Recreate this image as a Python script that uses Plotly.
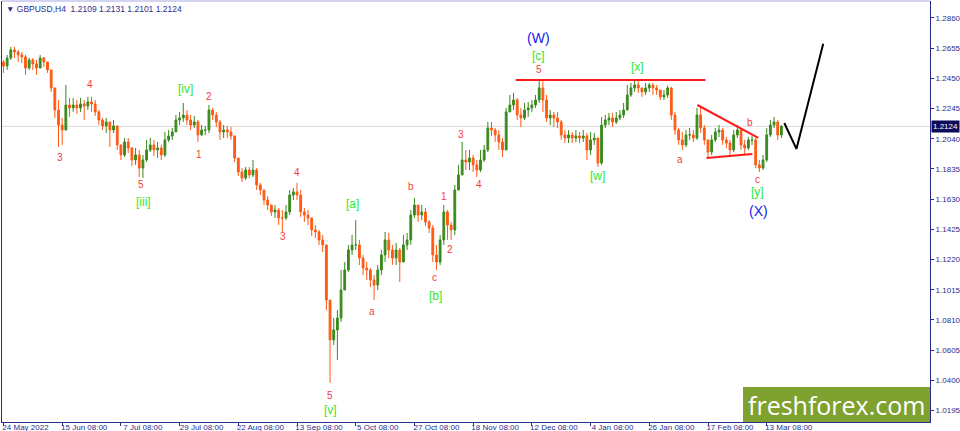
import plotly.graph_objects as go

# GBPUSD, one bar per trading day (24 May 2022 - 15 Mar 2023)
first_open = 1.2560
closes = [
    1.2534, 1.2588, 1.2643, 1.2629, 1.2609, 1.2595, 1.2520, 1.2575, 1.2548, 1.2520,
    1.2588, 1.2561, 1.2507, 1.2385, 1.2235, 1.2133, 1.2099, 1.2269, 1.2249, 1.2269,
    1.2249, 1.2276, 1.2262, 1.2290, 1.2276, 1.2222, 1.2167, 1.2127, 1.2154, 1.2099,
    1.2127, 1.1998, 1.1930, 1.2018, 1.1977, 1.1896, 1.1930, 1.1841, 1.1896, 1.1964,
    1.1998, 1.1964, 1.1977, 1.1930, 1.2032, 1.2059, 1.2086, 1.2167, 1.2181, 1.2201,
    1.2167, 1.2133, 1.2154, 1.2066, 1.2099, 1.2099, 1.2235, 1.2201, 1.2154, 1.2086,
    1.2099, 1.2086, 1.2059, 1.1909, 1.1814, 1.1773, 1.1828, 1.1794, 1.1828, 1.1726,
    1.1692, 1.1624, 1.1590, 1.1543, 1.1556, 1.1502, 1.1502, 1.1543, 1.1658, 1.1679,
    1.1658, 1.1543, 1.1522, 1.1502, 1.1421, 1.1407, 1.1353, 1.1319, 1.0945, 1.0674,
    1.0742, 1.0823, 1.1013, 1.1149, 1.1285, 1.1319, 1.1319, 1.1230, 1.1162, 1.1149,
    1.1081, 1.1047, 1.1149, 1.1251, 1.1353, 1.1285, 1.1230, 1.1285, 1.1203, 1.1319,
    1.1353, 1.1522, 1.1590, 1.1522, 1.1543, 1.1475, 1.1434, 1.1251, 1.1203, 1.1353,
    1.1543, 1.1454, 1.1421, 1.1692, 1.1794, 1.1896, 1.1882, 1.1909, 1.1862, 1.1828,
    1.1896, 1.1964, 1.2113, 1.2099, 1.2066, 1.2018, 1.1964, 1.2222, 1.2269, 1.2303,
    1.2201, 1.2181, 1.2235, 1.2249, 1.2269, 1.2303, 1.2385, 1.2303, 1.2181, 1.2201,
    1.2181, 1.2154, 1.2066, 1.2045, 1.2066, 1.2045, 1.2059, 1.2045, 1.2059, 1.1964,
    1.2032, 1.2045, 1.1875, 1.2133, 1.2167, 1.2181, 1.2154, 1.2181, 1.2201, 1.2235,
    1.2337, 1.2385, 1.2405, 1.2385, 1.2358, 1.2385, 1.2405, 1.2385, 1.2371, 1.2324,
    1.2337, 1.2385, 1.2201, 1.2099, 1.2032, 1.1998, 1.2066, 1.2066, 1.2045, 1.2201,
    1.2113, 1.2032, 1.1950, 1.2032, 1.2086, 1.2099, 1.2032, 1.2011, 1.1964, 1.2066,
    1.2099, 1.1998, 1.1977, 1.2032, 1.2032, 1.1862, 1.1841, 1.1896, 1.2066, 1.2133,
    1.2154, 1.2066, 1.2124,
]
highs = [
    1.2575, 1.2609, 1.2663, 1.2663, 1.2643, 1.2629, 1.2609, 1.2588, 1.2588, 1.2575,
    1.2609, 1.2595, 1.2561, 1.2507, 1.2385, 1.2303, 1.2181, 1.2405, 1.2317, 1.2317,
    1.2303, 1.2317, 1.2303, 1.2324, 1.2324, 1.2303, 1.2235, 1.2181, 1.2181, 1.2154,
    1.2167, 1.2113, 1.1998, 1.2045, 1.2045, 1.1984, 1.1977, 1.1964, 1.1930, 1.2032,
    1.2045, 1.2032, 1.2018, 1.1998, 1.2086, 1.2099, 1.2113, 1.2201, 1.2222, 1.2283,
    1.2235, 1.2201, 1.2195, 1.2167, 1.2133, 1.2127, 1.2269, 1.2249, 1.2222, 1.2167,
    1.2133, 1.2127, 1.2120, 1.2052, 1.1896, 1.1841, 1.1848, 1.1848, 1.1896, 1.1841,
    1.1740, 1.1692, 1.1651, 1.1590, 1.1590, 1.1570, 1.1556, 1.1590, 1.1692, 1.1705,
    1.1740, 1.1692, 1.1570, 1.1556, 1.1488, 1.1454, 1.1421, 1.1387, 1.1319, 1.0945,
    1.0823, 1.0877, 1.1149, 1.1203, 1.1319, 1.1387, 1.1488, 1.1353, 1.1251, 1.1203,
    1.1162, 1.1115, 1.1183, 1.1285, 1.1407, 1.1400, 1.1319, 1.1332, 1.1298, 1.1387,
    1.1400, 1.1556, 1.1638, 1.1590, 1.1590, 1.1570, 1.1488, 1.1454, 1.1319, 1.1387,
    1.1590, 1.1556, 1.1475, 1.1726, 1.1862, 1.2018, 1.1964, 1.1964, 1.1930, 1.1896,
    1.1964, 1.1998, 1.2154, 1.2154, 1.2113, 1.2099, 1.2045, 1.2249, 1.2337, 1.2351,
    1.2317, 1.2249, 1.2283, 1.2290, 1.2303, 1.2337, 1.2439, 1.2439, 1.2337, 1.2235,
    1.2222, 1.2222, 1.2167, 1.2099, 1.2099, 1.2086, 1.2099, 1.2086, 1.2099, 1.2079,
    1.2086, 1.2079, 1.2045, 1.2188, 1.2201, 1.2215, 1.2215, 1.2222, 1.2235, 1.2283,
    1.2405, 1.2419, 1.2439, 1.2439, 1.2385, 1.2419, 1.2419, 1.2419, 1.2405, 1.2371,
    1.2371, 1.2399, 1.2392, 1.2222, 1.2113, 1.2086, 1.2099, 1.2113, 1.2099, 1.2249,
    1.2256, 1.2133, 1.2032, 1.2066, 1.2113, 1.2133, 1.2113, 1.2052, 1.2032, 1.2099,
    1.2133, 1.2113, 1.2032, 1.2052, 1.2059, 1.2045, 1.1896, 1.1930, 1.2113, 1.2167,
    1.2188, 1.2167, 1.2133,
]
lows = [
    1.2487, 1.2507, 1.2575, 1.2588, 1.2561, 1.2554, 1.2473, 1.2507, 1.2507, 1.2473,
    1.2520, 1.2527, 1.2487, 1.2358, 1.2181, 1.1984, 1.1998, 1.2113, 1.2188, 1.2222,
    1.2208, 1.2222, 1.2167, 1.2235, 1.2222, 1.2195, 1.2133, 1.2099, 1.2079, 1.1984,
    1.2079, 1.1964, 1.1896, 1.1916, 1.1943, 1.1855, 1.1862, 1.1780, 1.1773, 1.1882,
    1.1950, 1.1923, 1.1909, 1.1896, 1.1916, 1.2018, 1.2032, 1.2099, 1.2133, 1.2154,
    1.2133, 1.2099, 1.2113, 1.2018, 1.2059, 1.2066, 1.2079, 1.2167, 1.2120, 1.2032,
    1.2045, 1.2045, 1.2032, 1.1882, 1.1787, 1.1746, 1.1760, 1.1773, 1.1780, 1.1692,
    1.1658, 1.1590, 1.1556, 1.1516, 1.1502, 1.1454, 1.1407, 1.1488, 1.1522, 1.1624,
    1.1624, 1.1509, 1.1475, 1.1454, 1.1380, 1.1366, 1.1319, 1.1271, 1.0877, 1.0382,
    1.0640, 1.0538, 1.0796, 1.1047, 1.1135, 1.1251, 1.1285, 1.1183, 1.1115, 1.1081,
    1.1033, 1.0945, 1.1013, 1.1115, 1.1203, 1.1230, 1.1183, 1.1183, 1.1067, 1.1217,
    1.1285, 1.1319, 1.1502, 1.1475, 1.1488, 1.1448, 1.1400, 1.1203, 1.1149, 1.1183,
    1.1319, 1.1353, 1.1353, 1.1387, 1.1692, 1.1794, 1.1828, 1.1828, 1.1814, 1.1780,
    1.1814, 1.1882, 1.1950, 1.2059, 1.2018, 1.1964, 1.1916, 1.1964, 1.2222, 1.2235,
    1.2167, 1.2120, 1.2167, 1.2188, 1.2222, 1.2249, 1.2283, 1.2222, 1.2154, 1.2133,
    1.2120, 1.2113, 1.2032, 1.2011, 1.2011, 1.2011, 1.2018, 1.2011, 1.2018, 1.1896,
    1.1930, 1.1998, 1.1848, 1.1862, 1.2113, 1.2133, 1.2120, 1.2140, 1.2167, 1.2181,
    1.2235, 1.2324, 1.2358, 1.2351, 1.2324, 1.2337, 1.2358, 1.2337, 1.2337, 1.2303,
    1.2303, 1.2317, 1.2167, 1.2066, 1.1998, 1.1964, 1.1984, 1.2032, 1.2018, 1.2032,
    1.2079, 1.1998, 1.1916, 1.1930, 1.2018, 1.2052, 1.1998, 1.1977, 1.1930, 1.1950,
    1.2045, 1.1964, 1.1930, 1.1964, 1.1998, 1.1841, 1.1814, 1.1828, 1.1882, 1.2052,
    1.2113, 1.2032, 1.2045,
]
opens = [first_open] + closes[:-1]
days = list(range(len(closes)))

tick_days = [0, 16, 32, 48, 64, 80, 96, 112, 128, 144, 160, 176, 192, 208]
tick_text = ["24 May 2022", "15 Jun 08:00", "7 Jul 08:00", "29 Jul 08:00",
             "22 Aug 08:00", "13 Sep 08:00", "5 Oct 08:00", "27 Oct 08:00",
             "18 Nov 08:00", "12 Dec 08:00", "4 Jan 08:00", "26 Jan 08:00",
             "17 Feb 08:00", "13 Mar 08:00"]
price_ticks = [1.0195, 1.0400, 1.0605, 1.0810, 1.1015, 1.1220, 1.1425,
               1.1630, 1.1835, 1.2040, 1.2245, 1.2450, 1.2655, 1.2860]
last_price = 1.2124

# wave count labels: text, day, price, level
wave_text = ["3", "4", "5", "[iii]", "[iv]", "1", "2", "3", "4", "5", "[v]",
             "[a]", "a", "b", "c", "[b]", "1", "2", "3", "4", "5", "[c]", "(W)",
             "[w]", "[x]", "a", "b", "c", "[y]", "(X)"]
wave_day = [15.5, 23.7, 37.6, 38.1, 49.5, 53.3, 56.0, 76.2, 80.0, 89.0, 89.0,
            95.2, 100.4, 111.0, 117.6, 117.8, 120.0, 121.6, 124.6, 129.5, 145.9, 145.9, 145.9,
            161.9, 172.8, 184.5, 203.5, 205.4, 205.4, 205.7]
wave_price = [1.1916, 1.2405, 1.1726, 1.1611, 1.2378, 1.1930, 1.2324, 1.1373, 1.1808, 1.0300, 1.0198,
              1.1597, 1.0870, 1.1719, 1.1095, 1.0972, 1.1645, 1.1285, 1.2072, 1.1726, 1.2507, 1.2602, 1.2724,
              1.1787, 1.2527, 1.1896, 1.2147, 1.1760, 1.1679, 1.1549]
wave_level = ["minor", "minor", "minor", "minute", "minute", "minor", "minor", "minor", "minor", "minor", "minute",
              "minute", "minor", "minor", "minor", "minute", "minor", "minor", "minor", "minor", "minor", "minute", "minor_deg",
              "minute", "minute", "minor", "minor", "minor", "minute", "minor_deg"]

# drawn lines
resistance_day = [139.6, 191.3]
resistance_price = [1.2439, 1.2439]
tri_top_day = [189.1, 205.7]
tri_top_price = [1.2269, 1.2045]
tri_bottom_day = [191.6, 204.1]
tri_bottom_price = [1.1909, 1.1936]
forecast_day = [212.8, 216.1, 223.4]
forecast_price = [1.2147, 1.1971, 1.2684]

navy = "#2c2c8c"
label_style = {
    "minor": dict(color="#f23c3c", size=10),
    "minute": dict(color="#2ee82e", size=12),
    "minor_deg": dict(color="#1a1aee", size=14),
}

fig = go.Figure()
fig.add_trace(go.Candlestick(
    x=days, open=opens, high=highs, low=lows, close=closes,
    increasing=dict(line=dict(color="#3a8a1e", width=1), fillcolor="#3a8a1e"),
    decreasing=dict(line=dict(color="#ff5a14", width=1), fillcolor="#ff5a14"),
    whiskerwidth=0, showlegend=False, hoverinfo="skip",
))
fig.add_trace(go.Scatter(x=resistance_day, y=resistance_price, mode="lines",
                         line=dict(color="#ff1a1a", width=2), showlegend=False))
fig.add_trace(go.Scatter(x=tri_top_day, y=tri_top_price, mode="lines",
                         line=dict(color="#ff1a1a", width=2), showlegend=False))
fig.add_trace(go.Scatter(x=tri_bottom_day, y=tri_bottom_price, mode="lines",
                         line=dict(color="#ff1a1a", width=2), showlegend=False))
fig.add_trace(go.Scatter(x=forecast_day, y=forecast_price, mode="lines",
                         line=dict(color="black", width=2), showlegend=False))

for t, d, p, lev in zip(wave_text, wave_day, wave_price, wave_level):
    st = label_style[lev]
    fig.add_annotation(x=d, y=p, text=t, showarrow=False,
                       font=dict(family="Liberation Sans", size=st["size"], color=st["color"]))

# bid line and price tag
fig.add_hline(y=last_price, line=dict(color="#d9d9d9", width=1), layer="below")
fig.add_annotation(xref="paper", x=1, xanchor="left", xshift=1, y=last_price, yanchor="middle",
                   text="1.2124", showarrow=False, bgcolor="#0c0c5a", borderpad=1,
                   font=dict(family="Liberation Sans", size=8, color="white"))

# header
fig.add_annotation(xref="paper", yref="paper", x=0, y=1, xanchor="left", yanchor="top",
                   xshift=2, yshift=-1, showarrow=False,
                   text="\u25BC GBPUSD,H4\u00a0\u00a01.2109 1.2131 1.2101 1.2124",
                   font=dict(family="Liberation Sans", size=8.5, color=navy))

# watermark
fig.add_shape(type="rect", xref="paper", yref="paper", x0=0.7985, x1=1.0, y0=0, y1=0.083,
              fillcolor="#7ea12f", line=dict(width=0))
fig.add_annotation(xref="paper", yref="paper", x=0.899, y=0.040, xanchor="center", yanchor="middle",
                   showarrow=False, text="freshforex.com",
                   font=dict(family="Open Sans", size=25, color="white"))

# top frame line
fig.add_shape(type="line", xref="paper", yref="paper", x0=0, x1=1, y0=1, y1=1,
              line=dict(color="#a8a8e0", width=1))

fig.update_layout(
    width=960, height=431,
    margin=dict(l=2, r=30, t=1, b=9),
    plot_bgcolor="white", paper_bgcolor="white",
    showlegend=False,
    xaxis=dict(range=[-0.4, 252.5], tickmode="array", tickvals=tick_days, ticktext=tick_text,
               ticks="outside", ticklen=3, tickcolor=navy, showgrid=False, zeroline=False,
               showline=True, linecolor=navy, linewidth=1, automargin=False,
               rangeslider=dict(visible=False), ticklabelshift=22, ticklabelstandoff=-6,
               tickfont=dict(family="Liberation Sans", size=8, color=navy)),
    yaxis=dict(range=[1.0117, 1.2975], side="right", tickmode="array", tickvals=price_ticks,
               ticktext=["%.4f" % v for v in price_ticks],
               ticks="outside", ticklen=3, tickcolor=navy, showgrid=False, zeroline=False,
               showline=True, linecolor=navy, linewidth=1, mirror=True, automargin=False,
               tickfont=dict(family="Liberation Sans", size=8, color=navy)),
)

fig.write_html("out.html", config={"displayModeBar": False},
               post_script="document.body.style.margin='0';")
